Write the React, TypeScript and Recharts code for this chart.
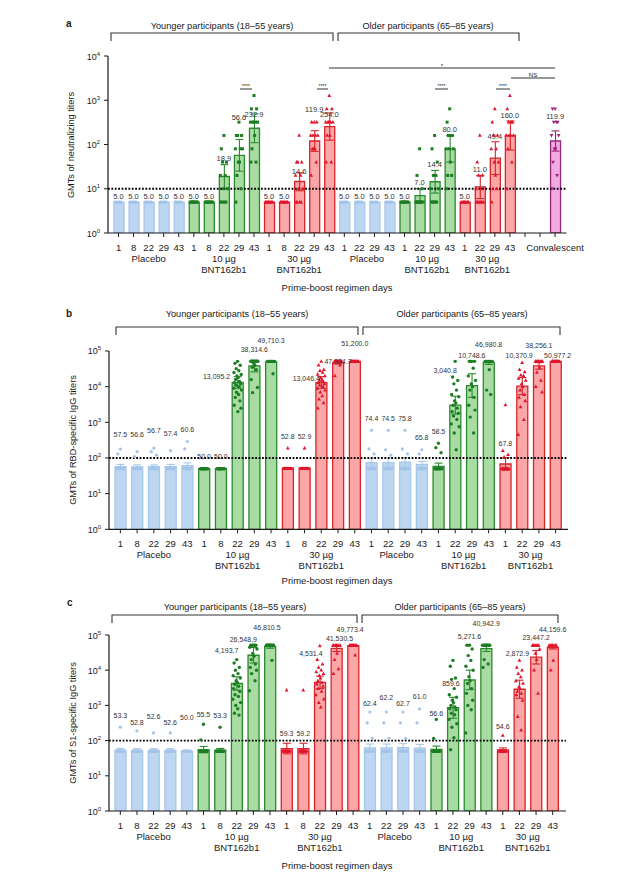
import React from 'react';
import { ComposedChart, Bar, Scatter, XAxis, YAxis, ErrorBar, ReferenceLine, LabelList } from 'recharts';

const FONT = '"Liberation Sans", Arial, Helvetica, sans-serif';
const INK = '#1a1a1a';

// ---------- categories ----------
const youngDays = ['1', '8', '22', '29', '43'];
const olderDays = ['1', '22', '29', '43'];
const igGCats: [string, string][] = [
  ...youngDays.map((d): [string, string] => ['pla', d]),
  ...youngDays.map((d): [string, string] => ['low', d]),
  ...youngDays.map((d): [string, string] => ['high', d]),
  ...olderDays.map((d): [string, string] => ['pla', d]),
  ...olderDays.map((d): [string, string] => ['low', d]),
  ...olderDays.map((d): [string, string] => ['high', d]),
];
const neutCats: [string, string][] = [...igGCats, ['none', ''], ['none', ''], ['conv', 'Convalescent']];

const groupLabels: Record<string, string[]> = {
  pla: ['Placebo'],
  low: ['10 µg', 'BNT162b1'],
  high: ['30 µg', 'BNT162b1'],
};

// ---------- panel a: neutralizing titers ----------
const gmtNeut = [5.0, 5.0, 5.0, 5.0, 5.0, 5.0, 5.0, 18.9, 56.6, 232.9, 5.0, 5.0, 14.6, 119.9, 254.0,
  5.0, 5.0, 5.0, 5.0, 5.0, 7.0, 14.4, 80.0, 5.0, 11.0, 49.4, 160.0, null, null, 119.9];
const ciNeut = [null, null, null, null, null, null, null, [10, 35], [25, 130], [110, 490],
  null, null, [9, 23], [70, 205], [125, 516], null, null, null, null,
  null, [5, 10], [8, 26], [40, 160], null, [6, 20], [21, 115], [75, 340], null, null, [71, 203]];
const ptsNeut = [
  [5, 5, 5, 5, 5, 5], [5, 5, 5, 5, 5, 5], [5, 5, 5, 5, 5, 5], [5, 5, 5, 5, 5, 5], [5, 5, 5, 5, 5, 5],
  [5, 5, 5, 5, 5, 5, 5, 5], [5, 5, 5, 5, 5, 5, 5, 5],
  [160, 80, 40, 40, 20, 20, 10, 10, 5, 5, 5, 5],
  [320, 160, 160, 160, 80, 80, 80, 40, 40, 20, 10, 5],
  [1280, 640, 640, 320, 320, 320, 320, 320, 160, 80, 40, 40],
  [5, 5, 5, 5, 5, 5, 5, 5], [5, 5, 5, 5, 5, 5, 5, 5],
  [160, 40, 40, 40, 20, 20, 10, 10, 5, 5, 5, 5],
  [320, 320, 320, 160, 160, 160, 160, 80, 80, 80, 40, 20],
  [1280, 640, 640, 320, 320, 320, 320, 320, 160, 160, 40, 40],
  [5, 5, 5, 5, 5, 5], [5, 5, 5, 5, 5, 5], [5, 5, 5, 5, 5, 5], [5, 5, 5, 5, 5, 5],
  [5, 5, 5, 5, 5, 5, 5, 5],
  [80, 20, 10, 5, 5, 5, 5, 5, 5, 5, 5, 5],
  [160, 80, 40, 20, 20, 10, 10, 5, 5, 5, 5, 5],
  [640, 320, 160, 160, 160, 80, 80, 80, 40, 20, 20, 10],
  [5, 5, 5, 5, 5, 5, 5, 5],
  [160, 40, 20, 20, 10, 10, 5, 5, 5, 5, 5, 5],
  [640, 320, 160, 160, 80, 80, 40, 40, 20, 10, 10, 5],
  [1280, 640, 320, 320, 320, 160, 160, 160, 160, 80, 40, 10],
  [], [],
  [640, 640, 320, 320, 320, 160, 160, 80, 80, 40, 20, 10],
];

// ---------- panel b: RBD-binding IgG ----------
const gmtRbd = [57.5, 56.6, 56.7, 57.4, 60.6, 50.0, 50.0, 13095.2, 38314.6, 49710.3, 52.8, 52.9, 13046.4, 47324.7, 51200.0,
  74.4, 74.5, 75.8, 65.8, 58.5, 3040.8, 10748.6, 46980.8, 67.8, 10370.9, 38256.1, 50977.2];
const ciRbd = [[50, 66], [50, 64], [50, 64], [50, 66], [50, 73], null, null, [9000, 19000], [26000, 56000], [48000, 51200],
  null, null, [9000, 19000], [43000, 52000], null,
  [56, 100], [56, 100], [56, 103], [55, 80], [48, 72], [1700, 5400], [5000, 23000], [42000, 52000],
  [45, 102], [6000, 18000], [31000, 47000], [50000, 52000]];
const ptsRbd = [
  [178, 130, 50, 50, 50, 50, 50, 50, 50, 50],
  [150, 110, 50, 50, 50, 50, 50, 50, 50, 50],
  [190, 150, 120, 50, 50, 50, 50, 50, 50, 50],
  [160, 50, 50, 50, 50, 50, 50, 50, 50, 50],
  [290, 180, 50, 50, 50, 50, 50, 50, 50, 50],
  [50, 50, 50, 50, 50, 50, 50, 50, 50, 50],
  [50, 50, 50, 50, 50, 50, 50, 50, 50, 50],
  [51200, 45000, 40000, 32000, 28000, 25000, 22000, 20000, 18000, 16000, 14000, 13000, 12000, 11000, 10000, 9000, 8000, 7000, 6000, 5000, 4000, 3000, 2500, 2000],
  [51200, 51200, 51200, 51200, 51200, 51200, 51200, 45000, 40000, 35000, 30000, 15800, 9500, 6800],
  [51200, 51200, 51200, 51200, 51200, 51200, 51200, 51200, 51200, 51200, 23000],
  [190, 50, 50, 50, 50, 50, 50, 50, 50, 50, 50, 50],
  [190, 50, 50, 50, 50, 50, 50, 50, 50, 50, 50, 50],
  [51200, 40000, 30000, 28000, 25000, 22000, 20000, 18000, 16000, 15000, 14000, 13000, 12000, 11000, 10000, 9000, 8000, 7000, 5500, 4500, 3500, 2500],
  [51200, 51200, 51200, 51200, 51200, 51200, 51200, 51200, 51200, 51200, 40000, 20000],
  [51200, 51200, 51200, 51200, 51200, 51200, 51200, 51200, 51200, 51200, 51200, 51200],
  [600, 180, 130, 50, 50, 50, 50, 50, 50, 50],
  [600, 170, 120, 50, 50, 50, 50, 50, 50, 50],
  [600, 180, 130, 50, 50, 50, 50, 50, 50, 50],
  [170, 130, 50, 50, 50, 50, 50, 50, 50, 50],
  [260, 195, 140, 50, 50, 50, 50, 50, 50, 50, 50, 50],
  [51200, 18600, 15000, 12000, 8000, 6000, 5200, 4000, 3500, 3000, 2500, 2000, 1800, 1500, 1200, 900, 750, 500, 170],
  [51200, 51200, 51200, 51200, 33000, 20000, 15000, 12000, 10000, 8000, 5000, 3000, 2200, 1400, 500],
  [51200, 51200, 51200, 51200, 51200, 51200, 51200, 51200, 30000, 8000, 6000],
  [3100, 160, 125, 105, 50, 50, 50, 50, 50, 50, 50, 50],
  [47000, 30000, 26000, 21000, 20000, 17000, 15000, 12000, 10000, 8000, 6000, 5000, 4000, 2700, 1200, 450],
  [51200, 51200, 51200, 51200, 51200, 51200, 51200, 51200, 35000, 25000, 15000, 10000, 7000],
  [51200, 51200, 51200, 51200, 51200, 51200, 51200, 51200, 51200, 51200, 51200, 51200],
];

// ---------- panel c: S1-binding IgG ----------
const gmtS1 = [53.3, 52.8, 52.6, 52.6, 50.0, 55.5, 53.3, 4193.7, 26548.9, 46810.5, 59.3, 59.2, 4531.4, 41530.5, 49773.4,
  62.4, 62.2, 62.7, 61.0, 56.6, 859.6, 5271.6, 40942.9, 54.6, 2872.9, 23447.2, 44159.6];
const ciS1 = [[47, 60], [47, 59], [47, 59], [47, 59], null, [45, 68], [47, 60], [2700, 6500], [16000, 44000], [42000, 52000],
  [42, 84], [42, 84], [3000, 6800], [34000, 50000], [48000, 51500],
  [48, 80], [48, 80], [48, 82], [48, 78], [46, 70], [430, 1700], [2800, 10000], [34000, 49000],
  [48, 62], [1600, 5200], [15000, 36000], [40000, 49000]];
const ptsS1 = [
  [240, 50, 50, 50, 50, 50, 50, 50, 50, 50],
  [190, 50, 50, 50, 50, 50, 50, 50, 50, 50],
  [165, 50, 50, 50, 50, 50, 50, 50, 50, 50],
  [165, 50, 50, 50, 50, 50, 50, 50, 50, 50],
  [50, 50, 50, 50, 50, 50, 50, 50, 50, 50],
  [290, 105, 50, 50, 50, 50, 50, 50, 50, 50, 50, 50],
  [240, 50, 50, 50, 50, 50, 50, 50, 50, 50, 50, 50],
  [20000, 16000, 12000, 10000, 8000, 7000, 6000, 5000, 4500, 4000, 3500, 3000, 2500, 2000, 1800, 1500, 1200, 1000, 800, 600, 530],
  [51200, 51200, 51200, 51200, 51200, 45000, 40000, 30000, 25000, 20000, 15000, 12000, 10000, 8000, 5000, 2600],
  [51200, 51200, 51200, 51200, 51200, 51200, 51200, 51200, 51200, 51200, 19000],
  [2700, 50, 50, 50, 50, 50, 50, 50, 50, 50, 50, 50],
  [2700, 50, 50, 50, 50, 50, 50, 50, 50, 50, 50, 50],
  [49000, 20000, 15000, 12000, 10000, 9000, 8000, 7000, 6000, 5000, 4500, 4000, 3500, 3000, 2500, 2000, 1500, 1200, 900],
  [51200, 51200, 51200, 51200, 51200, 51200, 51200, 51200, 30000, 20000, 11000, 8000],
  [51200, 51200, 51200, 51200, 51200, 51200, 51200, 51200, 51200, 51200, 27000],
  [650, 320, 115, 50, 50, 50, 50, 50, 50, 50],
  [650, 320, 115, 50, 50, 50, 50, 50, 50, 50],
  [650, 320, 115, 50, 50, 50, 50, 50, 50, 50],
  [800, 320, 50, 50, 50, 50, 50, 50, 50, 50],
  [400, 115, 50, 50, 50, 50, 50, 50, 50, 50, 50, 50],
  [19000, 13000, 6000, 5500, 3000, 2000, 1700, 1400, 1200, 1000, 900, 800, 750, 600, 540, 400, 300, 240, 120, 55],
  [51200, 51200, 40000, 26000, 19000, 13000, 10000, 6500, 5000, 4200, 3000, 2200, 1400, 1000, 750, 165],
  [51200, 51200, 51200, 51200, 51200, 51200, 51200, 51200, 51200, 20000, 15000, 12000],
  [140, 50, 50, 50, 50, 50, 50, 50, 50, 50, 50, 50],
  [19000, 12000, 10000, 8000, 6500, 5000, 4200, 3300, 3000, 2500, 2200, 2000, 1400, 480, 200],
  [51200, 51200, 51200, 51200, 51200, 51200, 40000, 30000, 20000, 10000, 2200],
  [51200, 51200, 51200, 51200, 51200, 51200, 51200, 51200, 19000, 10000],
];

// ---------- styles ----------
const GROUPS = ['pla', 'low', 'high', 'conv'];
const COLORS: Record<string, { fill: string; stroke: string; dot: string }> = {
  pla: { fill: '#bdd7f2', stroke: '#a7c7ea', dot: '#a3c4e8' },
  low: { fill: '#a9dca3', stroke: '#2b8a2e', dot: '#1d7d22' },
  high: { fill: '#fba7a7', stroke: '#d8242b', dot: '#e2142c' },
  conv: { fill: '#f5a9e3', stroke: '#8e2a78', dot: '#a5247d' },
};
const JIT = [0, -2.6, 2.6, -1.3, 1.3, -3.6, 3.6, -0.6, 0.6, -2, 2, -3.1, 3.1, -1.7, 1.7, -3.9, 3.9, -1, 1, -2.3, 2.3, -3.4, 3.4, 0.3];

// label nudges in px [dx, dy] by category index
const nudgeA: Record<number, number[]> = { 8: [0, -16], 9: [0, 6], 12: [0, 5], 13: [0, -15], 14: [0, 7], 29: [0, -9] };
const nudgeB: Record<number, number[]> = {
  0: [0, -3], 1: [0, -5], 2: [0, -6], 3: [0, -5], 7: [-21, 27], 8: [0, 2], 9: [0, -9], 12: [-15, 29], 13: [0, 12], 14: [0, -6],
  20: [-10, 21], 21: [0, 6], 22: [0, -5], 23: [0, 51], 24: [-3, 5], 25: [0, -4], 26: [2, 6],
};
const nudgeC: Record<number, number[]> = {
  1: [0, 4], 2: [0, -4], 3: [0, 2], 4: [0, -22], 5: [0, 2], 7: [-10, 3], 8: [-10, 6], 9: [-3, -6], 10: [0, 55], 11: [0, 55],
  12: [-9, 20], 13: [3, 5], 14: [-3, -4], 15: [0, 3], 16: [0, -3], 17: [0, 3], 19: [0, 6], 20: [-2, 35], 21: [0, 3],
  22: [0, -10], 23: [0, 3], 24: [-2, 5], 25: [0, 4], 26: [0, -4],
};

type Geo = { top: number; bottom: number; left: number; right: number; padL: number; padR: number; yMax: number };
const GEO_A: Geo = { top: 56, bottom: 233, left: 108, right: 566.6, padL: 3, padR: 4, yMax: 1e4 };
const GEO_B: Geo = { top: 351, bottom: 529.3, left: 109, right: 568, padL: 3, padR: 4, yMax: 1e5 };
const GEO_C: Geo = { top: 635, bottom: 811, left: 109, right: 566, padL: 3, padR: 5, yMax: 1e5 };

const W = 641;
const Y_AXIS_W = 50;
const X_AXIS_H = 60;
const TOP_M = 30;

const fmt = (v: number) => v.toLocaleString('en-US', { minimumFractionDigits: 1, maximumFractionDigits: 1 });

function buildRows(cats: [string, string][], gmt: any[], ci: any[], pts: number[][], anchor: 'ci' | 'max') {
  return cats.map(([g, d], i) => {
    const row: any = { key: 'k' + i, idx: i, group: g, day: d, gmt: gmt[i] };
    GROUPS.forEach((G) => {
      row[G] = g === G ? gmt[i] : null;
      row[G + 'Err'] = g === G && ci[i] ? [gmt[i] - ci[i][0], ci[i][1] - gmt[i]] : null;
    });
    pts[i].forEach((v, k) => { row['p' + k] = v; });
    const hi = ci[i] ? ci[i][1] : gmt[i];
    row.labelAt = gmt[i] == null ? null : anchor === 'ci' ? hi : Math.max(hi, ...pts[i]);
    row.label = gmt[i] == null ? '' : fmt(gmt[i]);
    return row;
  });
}

const rowsA = buildRows(neutCats, gmtNeut, ciNeut, ptsNeut, 'ci');
const rowsB = buildRows(igGCats, gmtRbd, ciRbd, ptsRbd, 'max');
const rowsC = buildRows(igGCats, gmtS1, ciS1, ptsS1, 'max');

function dotShape(k: number, squares: boolean) {
  const dx = JIT[k % JIT.length];
  return (p: any) => {
    const { cx, cy, payload } = p;
    if (!payload || !Number.isFinite(cx) || !Number.isFinite(cy)) return <g />;
    const c = COLORS[payload.group];
    if (!c) return <g />;
    const x = cx + dx;
    if (payload.group === 'pla') return <circle cx={x} cy={cy} r={1.6} fill={c.dot} />;
    if (payload.group === 'low')
      return squares ? <rect x={x - 1.5} y={cy - 1.5} width={3} height={3} fill={c.dot} /> : <circle cx={x} cy={cy} r={1.7} fill={c.dot} />;
    if (payload.group === 'high') return <path d={`M${x},${cy - 2.1}L${x + 1.9},${cy + 1.4}L${x - 1.9},${cy + 1.4}Z`} fill={c.dot} />;
    return <path d={`M${x},${cy + 2.1}L${x + 1.9},${cy - 1.4}L${x - 1.9},${cy - 1.4}Z`} fill={c.dot} />;
  };
}

function makeXTick(rows: any[], geo: Geo) {
  const band = (geo.right - geo.left - geo.padL - geo.padR) / rows.length;
  const base = TOP_M + (geo.bottom - geo.top); // axis line in chart-local coords
  return (props: any) => {
    const { x, payload } = props;
    const row = rows.find((r) => r.key === payload.value);
    if (!row) return <g />;
    const prev = rows[row.idx - 1];
    let grp: any = null;
    if (groupLabels[row.group] && (!prev || prev.group !== row.group)) {
      let n = 0;
      while (rows[row.idx + n] && rows[row.idx + n].group === row.group) n++;
      const gx = x + ((n - 1) / 2) * band;
      grp = groupLabels[row.group].map((t, j) => (
        <text key={j} x={gx} y={base + 29 + j * 10.5} textAnchor="middle" fontSize={9.5} fill={INK} fontFamily={FONT}>{t}</text>
      ));
    }
    return (
      <g>
        <text x={x} y={base + 18} textAnchor="middle" fontSize={9.5} fill={INK} fontFamily={FONT}>{row.day}</text>
        {grp}
      </g>
    );
  };
}

const YTick = (props: any) => {
  const { y, payload } = props;
  const e = Math.round(Math.log10(payload.value));
  return (
    <text x={props.x - 2} y={y + 3.5} textAnchor="end" fontSize={9} fill={INK} fontFamily={FONT}>
      <tspan>10</tspan>
      <tspan dy={-4} fontSize={6}>{e}</tspan>
    </text>
  );
};

function makeLabel(rows: any[], nudge: Record<number, number[]>, lift: number, fs: number) {
  return (p: any) => {
    const row = rows.find((r) => r.key === p.value);
    if (!row || row.gmt == null) return null;
    const vb = p.viewBox || p;
    const cx = vb.x + (vb.width || 0) / 2;
    const cy = vb.y + (vb.height || 0) / 2;
    if (!Number.isFinite(cx) || !Number.isFinite(cy)) return null;
    const n = nudge[row.idx] || [0, 0];
    return (
      <text x={cx + n[0]} y={cy - lift + fs * 0.36 + n[1]} textAnchor="middle" fontSize={fs} fill="#333" fontFamily={FONT}>{row.label}</text>
    );
  };
}

function PanelChart({ rows, geo, refY, squares, bar, nudge, lift, fs }: any) {
  const chartTop = geo.top - TOP_M;
  const height = geo.bottom - chartTop + X_AXIS_H;
  const ticks: number[] = [];
  for (let v = 1; v <= geo.yMax; v *= 10) ticks.push(v);
  const nDots = Math.max(...rows.map((r: any) => Object.keys(r).filter((k) => /^p\d+$/.test(k)).length));
  return (
    <div style={{ position: 'absolute', left: 0, top: chartTop }}>
      <ComposedChart
        width={W}
        height={height}
        data={rows}
        barGap={-bar}
        margin={{ top: TOP_M, right: W - geo.right, bottom: 0, left: geo.left - Y_AXIS_W }}
      >
        <XAxis
          dataKey="key"
          interval={0}
          tickSize={4}
          height={X_AXIS_H}
          padding={{ left: geo.padL, right: geo.padR }}
          axisLine={{ stroke: INK, strokeWidth: 1.2 }}
          tickLine={{ stroke: INK }}
          tick={makeXTick(rows, geo)}
        />
        <YAxis
          scale="log"
          domain={[1, geo.yMax]}
          allowDataOverflow
          ticks={ticks}
          interval={0}
          width={Y_AXIS_W}
          tickSize={4}
          axisLine={{ stroke: INK, strokeWidth: 1.2 }}
          tickLine={{ stroke: INK }}
          tick={YTick}
        />
        {GROUPS.map((g) => (
          <Bar key={g} dataKey={g} barSize={bar} fill={COLORS[g].fill} stroke={COLORS[g].stroke} strokeWidth={1.3} isAnimationActive={false}>
            <ErrorBar dataKey={g + 'Err'} direction="y" width={4} stroke={COLORS[g].stroke} strokeWidth={1.1} isAnimationActive={false} />
          </Bar>
        ))}
        <ReferenceLine y={refY} stroke="#000" strokeWidth={1.8} strokeDasharray="1.8 1.6" />
        {Array.from({ length: nDots }, (_, k) => (
          <Scatter key={'p' + k} dataKey={'p' + k} shape={dotShape(k, squares)} isAnimationActive={false} />
        ))}
        <Scatter dataKey="labelAt" shape={() => <g />} isAnimationActive={false}>
          <LabelList dataKey="key" content={makeLabel(rows, nudge, lift, fs)} />
        </Scatter>
      </ComposedChart>
    </div>
  );
}

const T = (p: any) => <text fontFamily={FONT} fill={INK} {...p} />;

function Bracket({ x1, x2, y }: any) {
  return <path d={`M${x1},${y + 8} V${y} H${x2} V${y + 8}`} fill="none" stroke="#333" strokeWidth={1.1} />;
}

function Overlay() {
  return (
    <svg width={W} height={878} style={{ position: 'absolute', left: 0, top: 0, pointerEvents: 'none' }}>
      {/* panel a */}
      <T x={66} y={27} fontSize={10} fontWeight="bold">a</T>
      <T x={222} y={28.5} fontSize={9.2} textAnchor="middle">Younger participants (18–55 years)</T>
      <T x={428} y={28.5} fontSize={9.2} textAnchor="middle">Older participants (65–85 years)</T>
      <Bracket x1={111} x2={333} y={33} />
      <Bracket x1={338} x2={519} y={33} />
      <T transform="translate(74,145) rotate(-90)" fontSize={9.2} textAnchor="middle">GMTs of neutralizing titers</T>
      <T x={337} y={290.5} fontSize={9.5} textAnchor="middle">Prime-boost regimen days</T>
      {[[240, 252], [317, 328], [435, 448], [496, 510]].map(([a, b], i) => (
        <g key={i}>
          <line x1={a} x2={b} y1={89} y2={89} stroke="#333" strokeWidth={1} />
          <T x={(a + b) / 2} y={88} fontSize={5} textAnchor="middle">****</T>
        </g>
      ))}
      <line x1={329} x2={555} y1={68} y2={68} stroke="#333" strokeWidth={1} />
      <T x={442} y={68} fontSize={6} textAnchor="middle">*</T>
      <line x1={511} x2={555} y1={78} y2={78} stroke="#333" strokeWidth={1} />
      <T x={533} y={76.5} fontSize={6} textAnchor="middle">NS</T>

      {/* panel b */}
      <T x={66} y={317} fontSize={10} fontWeight="bold">b</T>
      <T x={237} y={316.5} fontSize={9.2} textAnchor="middle">Younger participants (18–55 years)</T>
      <T x={462} y={316.5} fontSize={9.2} textAnchor="middle">Older participants (65–85 years)</T>
      <Bracket x1={116} x2={358} y={327} />
      <Bracket x1={363} x2={560} y={327} />
      <T transform="translate(76,440) rotate(-90)" fontSize={9.2} textAnchor="middle">GMTs of RBD-specific IgG titers</T>
      <T x={337} y={583.5} fontSize={9.5} textAnchor="middle">Prime-boost regimen days</T>

      {/* panel c */}
      <T x={67} y={606} fontSize={10} fontWeight="bold">c</T>
      <T x={235} y={609.5} fontSize={9.2} textAnchor="middle">Younger participants (18–55 years)</T>
      <T x={460} y={609.5} fontSize={9.2} textAnchor="middle">Older participants (65–85 years)</T>
      <Bracket x1={112} x2={357} y={615} />
      <Bracket x1={362} x2={558} y={615} />
      <T transform="translate(76,723) rotate(-90)" fontSize={9.2} textAnchor="middle">GMTs of S1-specific IgG titers</T>
      <T x={337} y={868.5} fontSize={9.5} textAnchor="middle">Prime-boost regimen days</T>
    </svg>
  );
}

export default function App() {
  return (
    <div style={{ position: 'absolute', left: 0, top: 0, width: W, height: 878, background: '#fff', fontFamily: FONT, overflow: 'hidden' }}>
      <PanelChart rows={rowsA} geo={GEO_A} refY={10} squares bar={10} nudge={nudgeA} lift={6} fs={7.5} />
      <PanelChart rows={rowsB} geo={GEO_B} refY={100} squares={false} bar={11} nudge={nudgeB} lift={12} fs={7} />
      <PanelChart rows={rowsC} geo={GEO_C} refY={100} squares={false} bar={11} nudge={nudgeC} lift={12} fs={7} />
      <Overlay />
    </div>
  );
}
